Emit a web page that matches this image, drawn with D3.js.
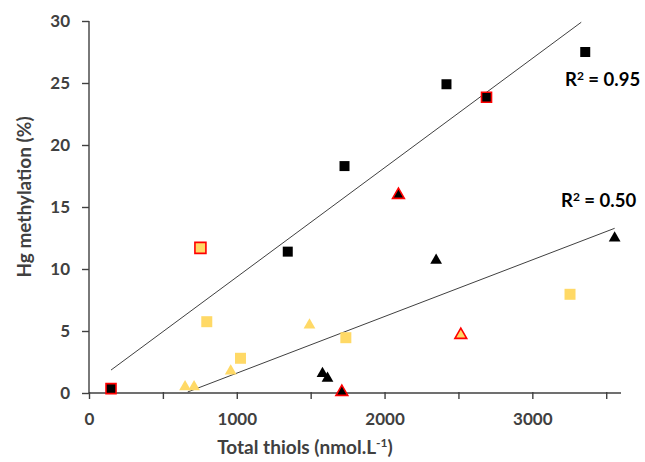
<!DOCTYPE html>
<html>
<head>
<meta charset="utf-8">
<script src="https://cdn.jsdelivr.net/npm/d3@7"></script>
<style>
  body { margin: 0; background: #fff; }
  text { font-family: Lato, "Open Sans", sans-serif; font-weight: bold; }
</style>
</head>
<body>
<div class="chart"></div>
<script>
const width = 645, height = 462;

// values: [thiols, methylation, red outline]
const blackSquares  = [[149, 0.35, 1], [1345, 11.4, 0], [1729, 18.3, 0], [2419, 24.9, 0], [2690, 23.85, 1], [3358, 27.5, 0]];
const yellowSquares = [[754, 11.7, 1], [797, 5.75, 0], [1025, 2.8, 0], [1738, 4.46, 0], [3255, 7.96, 0]];
const yellowTriangles = [[650, 0.5, 0], [711, 0.5, 0], [959, 1.77, 0], [1492, 5.48, 0], [2516, 4.68, 1]];
const blackTriangles  = [[1580, 1.56, 0], [1614, 1.18, 0], [1711, 0.08, 1], [2094, 15.97, 1], [2349, 10.7, 0], [3557, 12.5, 0]];

// trend lines (slope, intercept, x range) and their labels
const trendSlope = [0.008815, 0.004569];
const trendIntercept = [0.537, -2.97];
const trendStart = [149, 668];
const trendEnd = [3331, 3557];
const r2Labels = ["0.95", "0.50"];

const xTicks = [0, 500, 1000, 1500, 2000, 2500, 3000, 3500];
const xLabels = [0, 1000, 2000, 3000];
const yTicks = [0, 5, 10, 15, 20, 25, 30];

const margin = {left: 89, right: 24, top: 21, bottom: 69};

const svg = d3.select(".chart").append("svg")
  .attr("width", width)
  .attr("height", height);

const x = d3.scaleLinear().domain([0, 3600]).range([margin.left, width - margin.right]);
const y = d3.scaleLinear().domain([0, 30]).range([height - margin.bottom, margin.top]);

const axisColor = "#404040";

// x axis
const xAxis = svg.append("g")
  .attr("transform", "translate(0," + y(0) + ")")
  .call(d3.axisBottom(x).tickValues(xTicks).tickSize(6).tickFormat(d => xLabels.includes(d) ? d : ""));
xAxis.select(".domain").attr("stroke", axisColor).attr("stroke-width", 1.4).attr("d", "M" + x(0) + ",0H" + x(3600));
xAxis.selectAll(".tick line").attr("stroke", axisColor).attr("stroke-width", 1.4).attr("y1", -1);
xAxis.selectAll(".tick text")
  .attr("y", 20).attr("dy", "0.71em")
  .attr("fill", axisColor).style("font-size", "17px")
  .style("font-family", "Lato, sans-serif").style("font-weight", "bold");

// y axis
const yAxis = svg.append("g")
  .attr("transform", "translate(" + x(0) + ",0)")
  .call(d3.axisLeft(y).tickValues(yTicks).tickSize(7));
yAxis.select(".domain").attr("stroke", axisColor).attr("stroke-width", 1.4).attr("d", "M0," + y(0) + "V" + y(30));
yAxis.selectAll(".tick line").attr("stroke", axisColor).attr("stroke-width", 1.4);
yAxis.selectAll(".tick text")
  .attr("x", -19)
  .attr("fill", axisColor).style("font-size", "17px")
  .style("font-family", "Lato, sans-serif").style("font-weight", "bold");

// axis titles
const xTitle = svg.append("text")
  .attr("x", 305).attr("y", 454)
  .attr("text-anchor", "middle")
  .attr("fill", axisColor)
  .style("font-size", "19px");
xTitle.append("tspan").text("Total thiols (nmol.L");
xTitle.append("tspan").text("-1").attr("dy", -7).style("font-size", "12px");
xTitle.append("tspan").text(")").attr("dy", 7);

svg.append("text")
  .attr("transform", "translate(31,197) rotate(-90)")
  .attr("text-anchor", "middle")
  .attr("fill", axisColor)
  .style("font-size", "19px")
  .text("Hg methylation (%)");

// trend lines
trendSlope.forEach((s, i) => {
  svg.append("line")
    .attr("x1", x(trendStart[i])).attr("y1", y(s * trendStart[i] + trendIntercept[i]))
    .attr("x2", x(trendEnd[i])).attr("y2", y(s * trendEnd[i] + trendIntercept[i]))
    .attr("stroke", "#404040").attr("stroke-width", 1);
});

// markers
const yellow = "#FFD966";
function drawPoints(data, type, fill, size) {
  svg.append("g").selectAll("path")
    .data(data)
    .enter()
    .append("path")
      .attr("d", d3.symbol().type(type).size(size))
      .attr("transform", d => "translate(" + x(d[0]) + "," + y(d[1]) + ")")
      .attr("fill", fill)
      .attr("stroke", d => d[2] ? "#FF0000" : "none")
      .attr("stroke-width", 1.6);
}
drawPoints(yellowSquares, d3.symbolSquare, yellow, 121);
drawPoints(yellowTriangles, d3.symbolTriangle, yellow, 60);
drawPoints(blackSquares, d3.symbolSquare, "#000", 100);
drawPoints(blackTriangles, d3.symbolTriangle, "#000", 60);

// R² labels
const r2Pos = [[565, 86], [561, 207]];
r2Labels.forEach((r, i) => {
  const t = svg.append("text")
    .attr("x", r2Pos[i][0]).attr("y", r2Pos[i][1])
    .attr("fill", "#000")
    .style("font-size", "18.5px");
  t.append("tspan").text("R");
  t.append("tspan").text("2").attr("dy", -6).style("font-size", "12px");
  t.append("tspan").text(" = " + r).attr("dy", 6);
});
</script>
</body>
</html>
